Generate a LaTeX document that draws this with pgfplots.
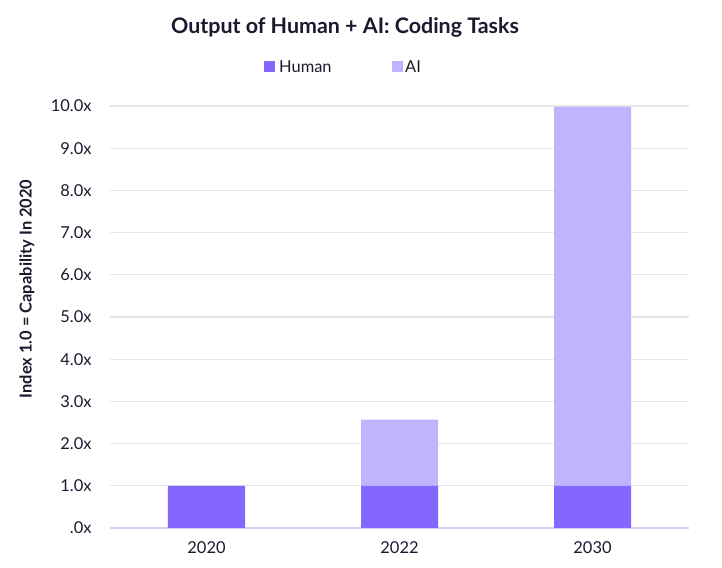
\documentclass[border=0pt]{standalone}
\usepackage{pgfplots}
\pgfplotsset{compat=1.18}
\usepackage{fontspec}
\setmainfont{Lato}
\definecolor{human}{HTML}{8566FF}
\definecolor{ai}{HTML}{C1B4FF}
\definecolor{gridc}{HTML}{E4E4EA}
\definecolor{basec}{HTML}{D6D2F2}
\definecolor{txt}{HTML}{1A1A2E}
\begin{document}
\begin{tikzpicture}[x=1bp,y=1bp]
\useasboundingbox (-110,-40) rectangle (612,528);
\begin{axis}[
  scale only axis,
  width=579bp, height=422bp,
  at={(0,0)}, anchor=south west,
  xmin=-0.5, xmax=2.5,
  ymin=0, ymax=10,
  ybar stacked,
  bar width=77bp,
  xtick={0,1,2},
  xticklabels={2020,2022,2030},
  ytick={0,1,...,10},
  yticklabels={.0x,1.0x,2.0x,3.0x,4.0x,5.0x,6.0x,7.0x,8.0x,9.0x,10.0x},
  ymajorgrids,
  grid style={gridc, line width=1.2pt},
  axis x line*=bottom,
  axis y line*=left,
  y axis line style={draw=none},
  x axis line style={basec, line width=1.8pt, -},
  major tick length=0pt,
  tick style={draw=none},
  xticklabel style={font=\fontsize{16.5}{18}\selectfont, text=txt, yshift=-10bp},
  yticklabel style={font=\fontsize{16.5}{18}\selectfont, text=txt, anchor=east, xshift=-15bp},
  clip=false,
]
\addplot[fill=human, draw=none] coordinates {(0,1.0) (1,1.0) (2,1.0)};
\addplot[fill=ai, draw=none] coordinates {(0,0) (1,1.57) (2,8.98)};
\end{axis}
\node[font=\bfseries\fontsize{21.5}{24}\selectfont, text=txt] at (235,501) {Output of Human + AI: Coding Tasks};
\node[font=\bfseries\fontsize{16.5}{18}\selectfont, text=txt, rotate=90] at (-83,239) {Index 1.0 = Capability In 2020};
\fill[human] (154,456) rectangle (165,467);
\node[anchor=west, font=\fontsize{16.5}{18}\selectfont, text=txt, inner sep=0pt] at (169,461) {Human};
\fill[ai] (282,456) rectangle (293,467);
\node[anchor=west, font=\fontsize{16.5}{18}\selectfont, text=txt, inner sep=0pt] at (295,461) {AI};
\end{tikzpicture}
\end{document}
